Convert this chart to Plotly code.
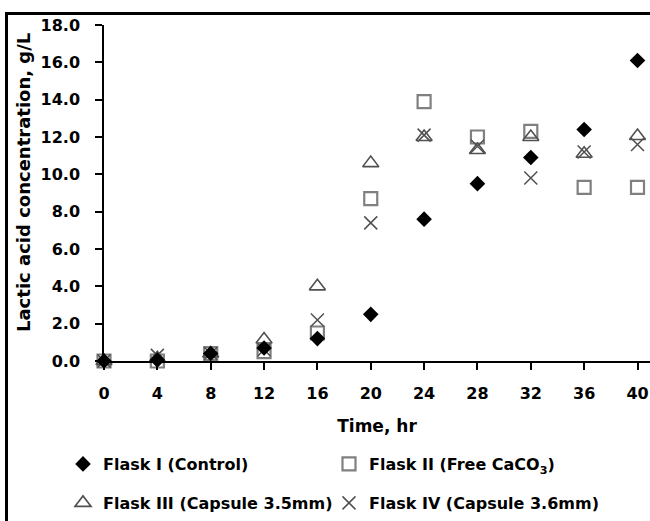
import plotly.graph_objects as go

time_hr = [0, 4, 8, 12, 16, 20, 24, 28, 32, 36, 40]
flask1 = [0.0, 0.05, 0.4, 0.7, 1.2, 2.5, 7.6, 9.5, 10.9, 12.4, 16.1]
flask2 = [0.0, 0.0, 0.4, 0.5, 1.5, 8.7, 13.9, 12.0, 12.3, 9.3, 9.3]
flask3 = [0.0, 0.15, 0.4, 1.15, 4.0, 10.6, 12.0, 11.3, 12.0, 11.1, 12.05]
flask4 = [0.0, 0.3, 0.4, 0.6, 2.2, 7.4, 12.1, 11.5, 9.8, 11.2, 11.6]

names = ["Flask I (Control)", "Flask II (Free CaCO<sub>3</sub>)",
         "Flask III (Capsule 3.5mm)", "Flask IV (Capsule 3.6mm)"]
y_ticks = [0, 2, 4, 6, 8, 10, 12, 14, 16, 18]
x_ticks = [0, 4, 8, 12, 16, 20, 24, 28, 32, 36, 40]

FONT = "DejaVu Sans"

fig = go.Figure()
fig.add_trace(go.Scatter(x=time_hr, y=flask2, mode="markers", name=names[1],
                         marker=dict(symbol="square-open", size=13, color="#808080",
                                     line=dict(width=2.2, color="#808080")),
                         legend="legend2", showlegend=True, cliponaxis=False))
fig.add_trace(go.Scatter(x=time_hr, y=flask3, mode="markers", name=names[2],
                         marker=dict(symbol="triangle-up-open", size=14, color="#505050",
                                     line=dict(width=1.6, color="#505050")),
                         legend="legend3", showlegend=True, cliponaxis=False))
fig.add_trace(go.Scatter(x=time_hr, y=flask4, mode="markers", name=names[3],
                         marker=dict(symbol="x-thin-open", size=13, color="#505050",
                                     line=dict(width=1.5, color="#505050")),
                         legend="legend4", showlegend=True, cliponaxis=False))
fig.add_trace(go.Scatter(x=time_hr, y=flask1, mode="markers", name=names[0],
                         marker=dict(symbol="diamond", size=12, color="black"),
                         legend="legend", showlegend=True, cliponaxis=False))

W, H = 650, 521
L, R, T, B = 104, 0, 25, 160
pw, ph = W - L - R, H - T - B
X_PER_PX = 40 / 533.5  # data units per pixel along x

def px(x):
    return (x - L) / pw

def py(y):
    return (H - B - y) / ph

leg_common = dict(orientation="h", xanchor="left", yanchor="middle",
                  font=dict(family=FONT, size=16, color="black", weight="bold"),
                  bgcolor="rgba(0,0,0,0)", itemwidth=30)

fig.update_layout(
    width=W, height=H,
    showlegend=True,
    margin=dict(l=L, r=R, t=T, b=B),
    paper_bgcolor="white", plot_bgcolor="white",
    font=dict(family=FONT, color="black"),
    xaxis=dict(range=[0, pw * X_PER_PX], tickvals=x_ticks, ticktext=[str(v) for v in x_ticks],
               showgrid=False, zeroline=False, showline=True, linecolor="black", linewidth=1.5,
               ticks="outside", ticklen=7, tickcolor="black", tickwidth=1.5,
               ticklabelstandoff=10,
               tickfont=dict(family=FONT, size=16, color="black", weight="bold"),
               title=dict(text="Time, hr", standoff=18,
                          font=dict(family=FONT, size=17, color="black", weight="bold")),
               automargin=False),
    yaxis=dict(range=[0, 18], tickvals=y_ticks, tickformat=".1f",
               showgrid=False, zeroline=False, showline=True, linecolor="black", linewidth=1.5,
               ticks="outside", ticklen=7, tickcolor="black", tickwidth=1.5,
               ticklabelstandoff=12,
               tickfont=dict(family=FONT, size=16, color="black", weight="bold"),
               automargin=False),
    legend=dict(x=px(63), y=py(464), **leg_common),
    legend2=dict(x=px(329), y=py(464), **leg_common),
    legend3=dict(x=px(63), y=py(503), **leg_common),
    legend4=dict(x=px(329), y=py(503), **leg_common),
    annotations=[
        dict(text="Lactic acid concentration, g/L", textangle=-90, showarrow=False,
             xref="paper", yref="paper", x=px(23), y=py(183), xanchor="center", yanchor="middle",
             font=dict(family=FONT, size=18, color="black", weight="bold")),
    ],
    shapes=[
        dict(type="line", xref="paper", yref="paper", x0=px(5), x1=px(652), y0=py(13.5), y1=py(13.5),
             line=dict(color="black", width=3)),
        dict(type="line", xref="paper", yref="paper", x0=px(6.5), x1=px(6.5), y0=py(12), y1=py(523),
             line=dict(color="black", width=3)),
    ],
)

fig.write_html("out.html", config={"displayModeBar": False},
               post_script="document.body.style.margin='0';document.body.style.overflow='hidden';")
